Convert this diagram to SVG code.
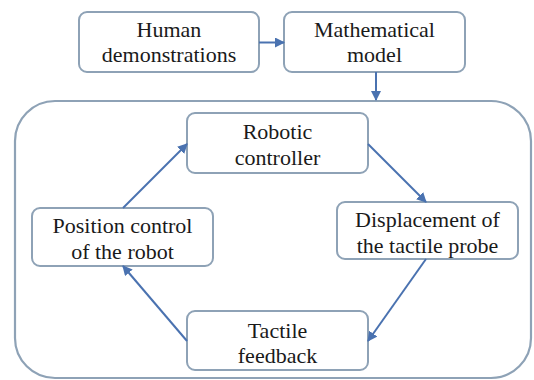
<svg xmlns="http://www.w3.org/2000/svg" width="534" height="380" viewBox="0 0 534 380">
<style>
.box{fill:#ffffff;stroke:#8ea2b6;stroke-width:2}
.big{fill:none;stroke:#8ea2b6;stroke-width:2.2}
.c{stroke:#4a72b0;stroke-width:2;fill:none;marker-end:url(#ah)}
</style>
<defs>
<marker id="ah" viewBox="0 0 10 10" refX="9" refY="5" markerWidth="5" markerHeight="5" orient="auto" markerUnits="strokeWidth">
<path d="M0,0 L10,5 L0,10 z" fill="#4a72b0"/>
</marker>
</defs>
<rect class="big" x="15" y="101" width="516" height="277" rx="40" ry="40"/>
<g font-family="Liberation Serif, Times New Roman, serif" font-size="22" fill="#1a1a1a" text-anchor="middle">
<g id="human">
<rect class="box" x="79" y="12" width="180" height="60" rx="8"/>
<text x="169" y="37">Human</text>
<text x="169" y="62">demonstrations</text>
</g>
<g id="math">
<rect class="box" x="284" y="12" width="181" height="60" rx="8"/>
<text x="374.5" y="37">Mathematical</text>
<text x="374.5" y="62">model</text>
</g>
<g id="robotic">
<rect class="box" x="187" y="113" width="181" height="60" rx="8"/>
<text x="277.5" y="139">Robotic</text>
<text x="277.5" y="165">controller</text>
</g>
<g id="displacement">
<rect class="box" x="337" y="202" width="181" height="57" rx="8"/>
<text x="427.5" y="227">Displacement of</text>
<text x="427.5" y="253">the tactile probe</text>
</g>
<g id="position">
<rect class="box" x="32" y="208" width="181" height="58" rx="8"/>
<text x="122.5" y="233">Position control</text>
<text x="122.5" y="259">of the robot</text>
</g>
<g id="tactile">
<rect class="box" x="187" y="311" width="181" height="59" rx="8"/>
<text x="277.5" y="338">Tactile</text>
<text x="277.5" y="363">feedback</text>
</g>
</g>
<g id="connectors">
<line class="c" x1="259" y1="42.5" x2="284" y2="42.5"/>
<line class="c" x1="376" y1="72" x2="376" y2="100"/>
<line class="c" x1="123" y1="208" x2="187" y2="144"/>
<line class="c" x1="368" y1="144" x2="426" y2="202"/>
<line class="c" x1="426" y1="259" x2="368" y2="341"/>
<line class="c" x1="187" y1="341" x2="123" y2="266"/>
</g>
</svg>
